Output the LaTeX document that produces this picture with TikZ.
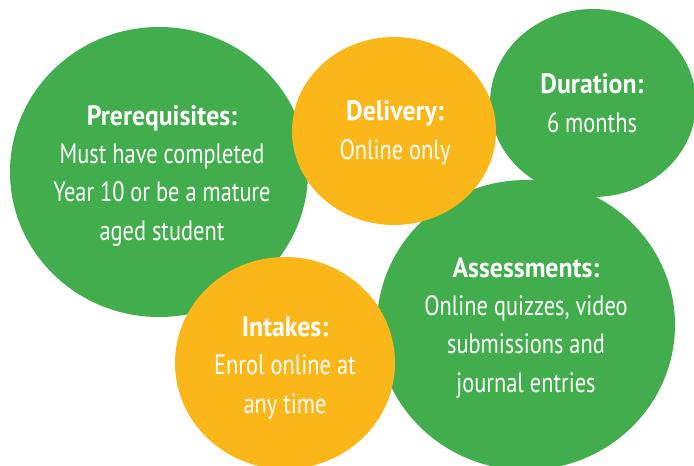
\documentclass[tikz,border=0pt]{standalone}
\usepackage{fontspec}
\setmainfont[FakeStretch=0.8,BoldFeatures={FakeStretch=0.92}]{PT Sans}
\usetikzlibrary{shapes.geometric}
\definecolor{cgreen}{RGB}{65,173,76}
\definecolor{cyellow}{RGB}{251,182,26}
\tikzset{
  blob/.style={ellipse, inner sep=0pt, draw=none},
  gblob/.style={blob, fill=cgreen},
  yblob/.style={blob, fill=cyellow},
  label/.style={text=white, align=center, anchor=base, inner sep=0pt,
    font=\fontsize{28}{38.2}\selectfont},
}
\begin{document}
\begin{tikzpicture}[x=1pt,y=-1pt]
\useasboundingbox (0,0) rectangle (694,466);
\clip (0,0) rectangle (694,466);
\node[gblob, minimum width=298pt, minimum height=290pt] (pre) at (159,172) {};
\node[gblob, minimum width=206pt, minimum height=188pt] (dur) at (593,103) {};
\node[gblob, minimum width=298pt, minimum height=290pt] (ass) at (526,325) {};
\node[yblob, minimum width=204pt, minimum height=188pt] (del) at (394,131) {};
\node[yblob, minimum width=220pt, minimum height=212pt] (int) at (285,363) {};

\node[label] (preT) at (162,240) {\textbf{Prerequisites:}\\Must have completed\\Year 10 or be a mature\\aged student};
\node[label] (delT) at (395,159) {\textbf{Delivery:}\\Online only};
\node[label] (durT) at (592,132) {\textbf{Duration:}\\6 months};
\node[label] (assT) at (526,392) {\textbf{Assessments:}\\Online quizzes, video\\submissions and\\journal entries};
\node[label] (intT) at (285,413) {\textbf{Intakes:}\\Enrol online at\\any time};
\end{tikzpicture}
\end{document}
